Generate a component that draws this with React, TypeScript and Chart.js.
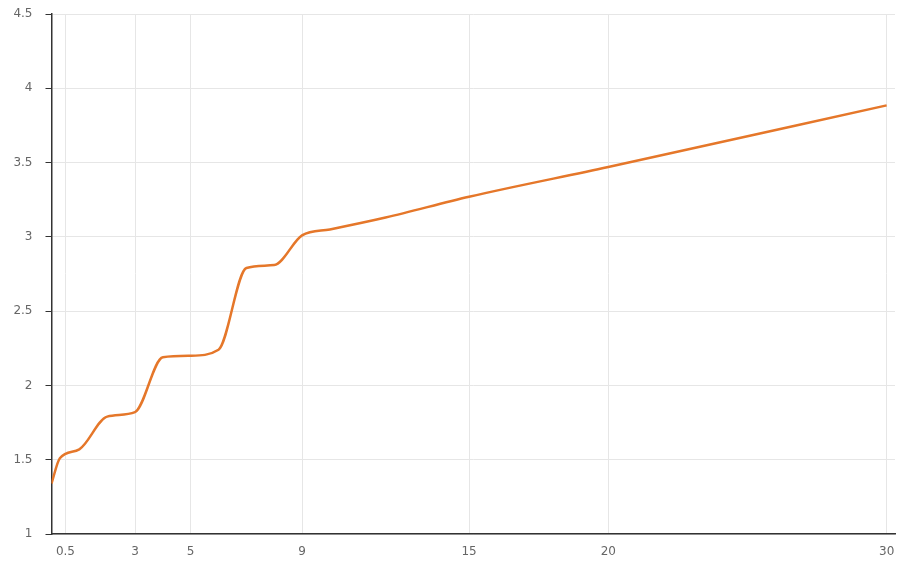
import React, { useEffect, useRef } from "react";
import { Chart, registerables } from "chart.js";

Chart.register(...registerables);

const xValues = [0, 0.3, 1, 2, 3, 4, 5, 6, 7, 8, 9, 10, 12, 15, 20, 30];
const yValues = [1.34, 1.51, 1.57, 1.79, 1.82, 2.19, 2.2, 2.24, 2.79, 2.81, 3.01, 3.05, 3.13, 3.27, 3.47, 3.885];
const xTickValues = [0.5, 3, 5, 9, 15, 20, 30];
const yTickValues = [1, 1.5, 2, 2.5, 3, 3.5, 4, 4.5];

export default function App() {
  const ref = useRef<HTMLCanvasElement | null>(null);
  useEffect(() => {
    document.body.style.margin = "0";
    const ctx = ref.current!.getContext("2d")!;
    const chart = new Chart(ctx, {
      type: "line",
      data: {
        datasets: [
          {
            data: xValues.map((x, i) => ({ x, y: yValues[i] })),
            borderColor: "#E5772A",
            borderWidth: 2.5,
            pointRadius: 0,
            cubicInterpolationMode: "monotone",
            fill: false,
          },
        ],
      },
      options: {
        animation: false,
        responsive: false,
        maintainAspectRatio: false,
        events: [],
        layout: { padding: { top: 14, right: 25, left: 0, bottom: 0 } },
        plugins: { legend: { display: false }, tooltip: { enabled: false } },
        scales: {
          x: {
            type: "linear",
            min: 0,
            max: 30.3,
            afterBuildTicks: (scale: any) => {
              scale.ticks = xTickValues.map((v) => ({ value: v }));
            },
            afterFit: (scale: any) => {
              scale.height = 29;
              scale.paddingLeft = 0;
              scale.paddingRight = 0;
            },
            grid: { color: "#e6e6e6", lineWidth: 1, drawTicks: false },
            border: { color: "#333", width: 1.5 },
            ticks: {
              color: "#666",
              font: { family: "DejaVu Sans", size: 12 },
              padding: 11,
              maxRotation: 0,
              autoSkip: false,
              callback: (v: any) => String(v),
            },
          },
          y: {
            type: "linear",
            min: 1,
            max: 4.5,
            afterBuildTicks: (scale: any) => {
              scale.ticks = yTickValues.map((v) => ({ value: v }));
            },
            afterFit: (scale: any) => {
              scale.width = 51.5;
              scale.paddingTop = 0;
              scale.paddingBottom = 0;
            },
            grid: { color: "#e6e6e6", lineWidth: 1, tickColor: "#333", tickLength: 6 },
            border: { color: "#333", width: 1.5 },
            ticks: {
              color: "#666",
              font: { family: "DejaVu Sans", size: 12 },
              padding: 13,
              autoSkip: false,
              callback: (v: any) => String(v),
            },
          },
        },
      },
    });
    return () => chart.destroy();
  }, []);
  return (
    <div style={{ position: "fixed", left: 0, top: 0, width: 920, height: 563, background: "#fff" }}>
      <canvas ref={ref} width={920} height={563} style={{ width: 920, height: 563, display: "block" }} />
    </div>
  );
}
